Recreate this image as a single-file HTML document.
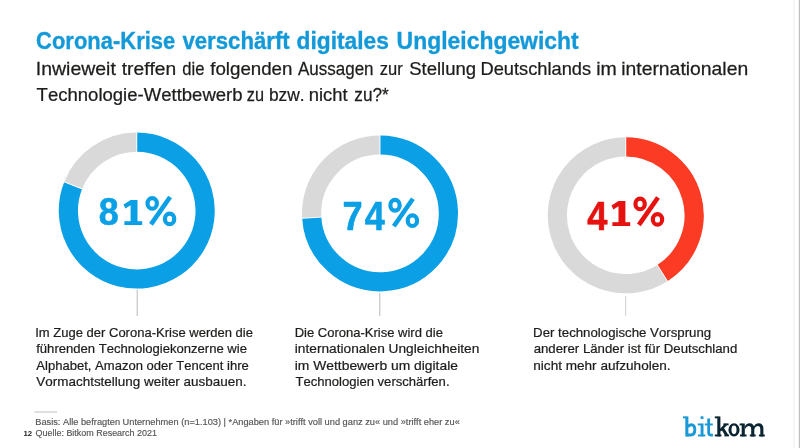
<!DOCTYPE html>
<html lang="de"><head><meta charset="utf-8"><title>Corona-Krise verschärft digitales Ungleichgewicht</title>
<style>
html,body{margin:0;padding:0;background:#fff;}
body{width:800px;height:448px;overflow:hidden;font-family:"Liberation Sans",sans-serif;}
svg{display:block;will-change:transform;}
text{white-space:pre;font-kerning:none;}
</style></head><body>
<svg width="800" height="448" viewBox="0 0 800 448">
<rect width="800" height="448" fill="#ffffff"/>
<rect x="792.6" y="0" width="3.2" height="448" fill="#fafafa"/>
<rect x="793.4" y="0" width="1.6" height="448" fill="#f6f6f6"/>
<rect x="798.8" y="0" width="1.2" height="448" fill="#bfbfbf"/>
<text stroke="#1499d8" stroke-width="0.35" transform="translate(36.10 48.70) scale(0.8876 1.0000)" font-size="24.75" fill="#1499d8" font-weight="bold" font-family="'Liberation Sans', sans-serif">Corona-Krise</text>
<text stroke="#1499d8" stroke-width="0.35" transform="translate(182.41 48.70) scale(0.8970 1.0000)" font-size="24.75" fill="#1499d8" font-weight="bold" font-family="'Liberation Sans', sans-serif">verschärft</text>
<text stroke="#1499d8" stroke-width="0.35" transform="translate(296.57 48.70) scale(0.9200 1.0000)" font-size="24.75" fill="#1499d8" font-weight="bold" font-family="'Liberation Sans', sans-serif">digitales</text>
<text stroke="#1499d8" stroke-width="0.35" transform="translate(396.62 48.70) scale(0.9263 1.0000)" font-size="24.75" fill="#1499d8" font-weight="bold" font-family="'Liberation Sans', sans-serif">Ungleichgewicht</text>
<text stroke="#1d1d1b" stroke-width="0.25" transform="translate(35.80 75.00) scale(1.0641 1.0000)" font-size="18.3" fill="#1d1d1b" font-weight="normal" font-family="'Liberation Sans', sans-serif">Inwieweit</text>
<text stroke="#1d1d1b" stroke-width="0.25" transform="translate(121.71 75.00) scale(1.0513 1.0000)" font-size="18.3" fill="#1d1d1b" font-weight="normal" font-family="'Liberation Sans', sans-serif">treffen</text>
<text stroke="#1d1d1b" stroke-width="0.25" transform="translate(182.30 75.00) scale(0.9085 1.0000)" font-size="18.3" fill="#1d1d1b" font-weight="normal" font-family="'Liberation Sans', sans-serif">die</text>
<text stroke="#1d1d1b" stroke-width="0.25" transform="translate(210.23 75.00) scale(1.0229 1.0000)" font-size="18.3" fill="#1d1d1b" font-weight="normal" font-family="'Liberation Sans', sans-serif">folgenden</text>
<text stroke="#1d1d1b" stroke-width="0.25" transform="translate(297.97 75.00) scale(0.9293 1.0000)" font-size="18.3" fill="#1d1d1b" font-weight="normal" font-family="'Liberation Sans', sans-serif">Aussagen</text>
<text stroke="#1d1d1b" stroke-width="0.25" transform="translate(379.83 75.00) scale(0.9025 1.0000)" font-size="18.3" fill="#1d1d1b" font-weight="normal" font-family="'Liberation Sans', sans-serif">zur</text>
<text stroke="#1d1d1b" stroke-width="0.25" transform="translate(409.16 75.00) scale(1.0137 1.0000)" font-size="18.3" fill="#1d1d1b" font-weight="normal" font-family="'Liberation Sans', sans-serif">Stellung</text>
<text stroke="#1d1d1b" stroke-width="0.25" transform="translate(480.50 75.00) scale(0.9980 1.0000)" font-size="18.3" fill="#1d1d1b" font-weight="normal" font-family="'Liberation Sans', sans-serif">Deutschlands</text>
<text stroke="#1d1d1b" stroke-width="0.25" transform="translate(596.19 75.00) scale(1.0664 1.0000)" font-size="18.3" fill="#1d1d1b" font-weight="normal" font-family="'Liberation Sans', sans-serif">im</text>
<text stroke="#1d1d1b" stroke-width="0.25" transform="translate(621.20 75.00) scale(1.0583 1.0000)" font-size="18.3" fill="#1d1d1b" font-weight="normal" font-family="'Liberation Sans', sans-serif">internationalen</text>
<text stroke="#1d1d1b" stroke-width="0.25" transform="translate(36.58 100.70) scale(1.0136 1.0000)" font-size="18.3" fill="#1d1d1b" font-weight="normal" font-family="'Liberation Sans', sans-serif">Technologie-Wettbewerb</text>
<text stroke="#1d1d1b" stroke-width="0.25" transform="translate(246.84 100.70) scale(0.8923 1.0000)" font-size="18.3" fill="#1d1d1b" font-weight="normal" font-family="'Liberation Sans', sans-serif">zu</text>
<text stroke="#1d1d1b" stroke-width="0.25" transform="translate(268.88 100.70) scale(0.9489 1.0000)" font-size="18.3" fill="#1d1d1b" font-weight="normal" font-family="'Liberation Sans', sans-serif">bzw.</text>
<text stroke="#1d1d1b" stroke-width="0.25" transform="translate(308.78 100.70) scale(1.0052 1.0000)" font-size="18.3" fill="#1d1d1b" font-weight="normal" font-family="'Liberation Sans', sans-serif">nicht</text>
<text stroke="#1d1d1b" stroke-width="0.25" transform="translate(354.30 100.70) scale(0.9410 1.0000)" font-size="18.3" fill="#1d1d1b" font-weight="normal" font-family="'Liberation Sans', sans-serif">zu?*</text>
<path d="M136.75 142.20A68.4 68.4 0 1 1 73.15 185.42" fill="none" stroke="#0b9fe5" stroke-width="19.2"/>
<path d="M73.15 185.42A68.4 68.4 0 0 1 136.75 142.20" fill="none" stroke="#d9d9d9" stroke-width="19.2"/>
<line x1="136.75" y1="152.80" x2="136.75" y2="131.60" stroke="#fff" stroke-width="0.9"/>
<line x1="83.01" y1="189.32" x2="63.30" y2="181.52" stroke="#fff" stroke-width="0.9"/>
<path d="M380.00 145.00A68.4 68.4 0 1 1 311.73 217.69" fill="none" stroke="#0b9fe5" stroke-width="19.2"/>
<path d="M311.73 217.69A68.4 68.4 0 0 1 380.00 145.00" fill="none" stroke="#d9d9d9" stroke-width="19.2"/>
<line x1="380.00" y1="155.60" x2="380.00" y2="134.40" stroke="#fff" stroke-width="0.9"/>
<line x1="322.31" y1="217.03" x2="301.16" y2="218.36" stroke="#fff" stroke-width="0.9"/>
<path d="M625.75 146.90A68.4 68.4 0 0 1 662.40 273.05" fill="none" stroke="#fb3b24" stroke-width="19.2"/>
<path d="M662.40 273.05A68.4 68.4 0 1 1 625.75 146.90" fill="none" stroke="#d9d9d9" stroke-width="19.2"/>
<line x1="625.75" y1="157.50" x2="625.75" y2="136.30" stroke="#fff" stroke-width="0.9"/>
<line x1="656.72" y1="264.10" x2="668.08" y2="282.00" stroke="#fff" stroke-width="0.9"/>
<rect x="136.7" y="289.6" width="1" height="26.4" fill="#b9b9b9"/>
<rect x="379.3" y="293" width="1" height="23" fill="#b9b9b9"/>
<rect x="625.2" y="295.9" width="1" height="20.1" fill="#cfcfcf"/>
<text stroke="#0b9fe5" stroke-width="0.6" stroke-linejoin="round" transform="translate(98.86 224.60) scale(0.9436 1.0251)" font-size="38" fill="#0b9fe5" font-weight="bold" font-family="'Liberation Sans', sans-serif">8</text>
<path fill="#0b9fe5" d="M130.6 200L137.5 200L137.5 225L130.6 225L130.6 205.2L125.4 208.6L123.5 204.4Z"/><rect x="124.4" y="221.2" width="17.8" height="3.8" fill="#0b9fe5"/>
<g transform="translate(0 0)" fill="none" stroke="#0b9fe5"><ellipse cx="152.2" cy="203.45" rx="4.65" ry="5.3" stroke-width="4.2"/><ellipse cx="169.6" cy="218.9" rx="4.65" ry="5.3" stroke-width="4.2"/><path d="M170.1 197 L151 224.4" stroke-width="4.6"/></g>
<text stroke="#0b9fe5" stroke-width="0.6" stroke-linejoin="round" transform="translate(342.54 230.20) scale(0.9534 1.0748)" font-size="38" fill="#0b9fe5" font-weight="bold" font-family="'Liberation Sans', sans-serif">7</text>
<text stroke="#0b9fe5" stroke-width="0.6" stroke-linejoin="round" transform="translate(364.85 230.20) scale(0.9482 1.0748)" font-size="38" fill="#0b9fe5" font-weight="bold" font-family="'Liberation Sans', sans-serif">4</text>
<g transform="translate(242.8 1.8)" fill="none" stroke="#0b9fe5"><ellipse cx="152.2" cy="203.45" rx="4.65" ry="5.3" stroke-width="4.2"/><ellipse cx="169.6" cy="218.9" rx="4.65" ry="5.3" stroke-width="4.2"/><path d="M170.1 197 L151 224.4" stroke-width="4.6"/></g>
<text stroke="#e6120f" stroke-width="0.6" stroke-linejoin="round" transform="translate(587.35 229.50) scale(0.9531 1.0901)" font-size="38" fill="#e6120f" font-weight="bold" font-family="'Liberation Sans', sans-serif">4</text>
<path fill="#e6120f" d="M618.5 201L625.4 201L625.4 226L618.5 226L618.5 206.2L613.4 209.6L611.5 205.4Z"/><rect x="612.4" y="222.2" width="17.8" height="3.8" fill="#e6120f"/>
<g transform="translate(487.9 0.5)" fill="none" stroke="#e6120f"><ellipse cx="152.2" cy="203.45" rx="4.65" ry="5.3" stroke-width="4.2"/><ellipse cx="169.6" cy="218.9" rx="4.65" ry="5.3" stroke-width="4.2"/><path d="M170.1 197 L151 224.4" stroke-width="4.6"/></g>
<text stroke="#1d1d1b" stroke-width="0.22" transform="translate(35.20 337.30) scale(1.0023 1.0000)" font-size="13" fill="#1d1d1b" font-weight="normal" font-family="'Liberation Sans', sans-serif">Im Zuge der Corona-Krise werden die</text>
<text stroke="#1d1d1b" stroke-width="0.22" transform="translate(36.21 353.30) scale(1.0066 1.0000)" font-size="13" fill="#1d1d1b" font-weight="normal" font-family="'Liberation Sans', sans-serif">führenden Technologiekonzerne wie</text>
<text stroke="#1d1d1b" stroke-width="0.22" transform="translate(36.37 369.50) scale(1.0041 1.0000)" font-size="13" fill="#1d1d1b" font-weight="normal" font-family="'Liberation Sans', sans-serif">Alphabet, Amazon oder Tencent ihre</text>
<text stroke="#1d1d1b" stroke-width="0.22" transform="translate(36.34 385.80) scale(1.0356 1.0000)" font-size="13" fill="#1d1d1b" font-weight="normal" font-family="'Liberation Sans', sans-serif">Vormachtstellung weiter ausbauen.</text>
<text stroke="#1d1d1b" stroke-width="0.22" transform="translate(294.63 337.30) scale(1.0023 1.0000)" font-size="13" fill="#1d1d1b" font-weight="normal" font-family="'Liberation Sans', sans-serif">Die Corona-Krise wird die</text>
<text stroke="#1d1d1b" stroke-width="0.22" transform="translate(294.78 353.30) scale(1.0555 1.0000)" font-size="13" fill="#1d1d1b" font-weight="normal" font-family="'Liberation Sans', sans-serif">internationalen Ungleichheiten</text>
<text stroke="#1d1d1b" stroke-width="0.22" transform="translate(294.77 369.50) scale(1.0664 1.0000)" font-size="13" fill="#1d1d1b" font-weight="normal" font-family="'Liberation Sans', sans-serif">im Wettbewerb um digitale</text>
<text stroke="#1d1d1b" stroke-width="0.22" transform="translate(295.41 385.80) scale(1.0071 1.0000)" font-size="13" fill="#1d1d1b" font-weight="normal" font-family="'Liberation Sans', sans-serif">Technologien verschärfen.</text>
<text stroke="#1d1d1b" stroke-width="0.22" transform="translate(533.11 337.30) scale(1.0192 1.0000)" font-size="13" fill="#1d1d1b" font-weight="normal" font-family="'Liberation Sans', sans-serif">Der technologische Vorsprung</text>
<text stroke="#1d1d1b" stroke-width="0.22" transform="translate(533.64 353.30) scale(1.0182 1.0000)" font-size="13" fill="#1d1d1b" font-weight="normal" font-family="'Liberation Sans', sans-serif">anderer Länder ist für Deutschland</text>
<text stroke="#1d1d1b" stroke-width="0.22" transform="translate(533.30 369.50) scale(1.0442 1.0000)" font-size="13" fill="#1d1d1b" font-weight="normal" font-family="'Liberation Sans', sans-serif">nicht mehr aufzuholen.</text>
<rect x="34.6" y="411.5" width="22.4" height="1" fill="#bdbdbd"/>
<text stroke="#555555" stroke-width="0.15" transform="translate(35.24 425.00) scale(1.1015 1.0000)" font-size="8.4" fill="#555555" font-weight="normal" font-family="'Liberation Sans', sans-serif">Basis: Alle befragten Unternehmen (n=1.103) | *Angaben für »trifft voll und ganz zu« und »trifft eher zu«</text>
<text stroke="#555555" stroke-width="0.15" transform="translate(35.58 436.00) scale(1.0662 1.0000)" font-size="8.4" fill="#555555" font-weight="normal" font-family="'Liberation Sans', sans-serif">Quelle: Bitkom Research 2021</text>
<text transform="translate(23.41 435.50) scale(1.0871 1.0000)" font-size="7.2" fill="#222" font-weight="bold" font-family="'Liberation Sans', sans-serif">12</text>
<g id="logo">
<g fill="#1b99d6" stroke="none">
<rect x="685.3" y="416.4" width="3.1" height="20"/>
<rect x="683" y="416.4" width="3" height="1.9"/>
<rect x="700.6" y="416.3" width="2.9" height="2.7" rx="0.6"/>
<rect x="700.6" y="423.5" width="2.9" height="12.9"/>
<rect x="697.8" y="423.5" width="3.5" height="1.9"/>
<rect x="698" y="434.5" width="7.3" height="1.9"/>
<rect x="704.8" y="423.5" width="8" height="1.9"/>
</g>
<g fill="none" stroke="#1b99d6" stroke-width="2.9">
<path d="M688 426.6 C689.4 425.2 690.4 424.7 691.4 424.7 C694 424.7 694.8 427.3 694.8 429.8 C694.8 432.6 693.6 435 690.6 435 L686 435"/>
<path d="M708.65 418.6 L708.65 432.4 Q708.65 435.1 711.2 435.1 L712.9 435.1" stroke-width="2.8"/>
</g>
<g fill="#0a2432" stroke="none">
<rect x="717.3" y="416.4" width="3.1" height="20"/>
<rect x="714.8" y="416.4" width="3" height="1.9"/>
<rect x="714.8" y="434.5" width="6.6" height="1.9"/>
<rect x="723.4" y="423.4" width="5.2" height="1.9"/>
<rect x="724.4" y="434.5" width="4.6" height="1.9"/>
<path fill-rule="evenodd" d="M728.4 429.85 A5.6 6.65 0 1 0 739.6 429.85 A5.6 6.65 0 1 0 728.4 429.85 Z M731.5 429.85 A2.5 4.3 0 1 1 736.5 429.85 A2.5 4.3 0 1 1 731.5 429.85 Z"/>
<rect x="739.6" y="423.5" width="3" height="1.9"/>
<rect x="741.7" y="423.5" width="3.1" height="12.9"/>
<rect x="740" y="434.5" width="6.6" height="1.9"/>
<rect x="749.8" y="434.5" width="5.9" height="1.9"/>
<rect x="758.9" y="434.5" width="5.9" height="1.9"/>
</g>
<g fill="none" stroke="#0a2432">
<path d="M720 430.6 L726 424.4" stroke-width="2.5"/>
<path d="M722.4 428.4 L726.9 435.4" stroke-width="2.9"/>
<path stroke="none" fill="#0a2432" d="M744.8 426.4 C746 424.3 747.6 423.2 749.5 423.2 C752.6 423.2 754.3 425.2 754.3 428.6 L754.3 436.4 L751.2 436.4 L751.2 429.2 C751.2 427.1 750.3 426 748.7 426 C747.2 426 745.8 427.3 744.8 429.4 Z"/>
<path stroke="none" fill="#0a2432" transform="translate(9.1 0)" d="M744.8 426.4 C746 424.3 747.6 423.2 749.5 423.2 C752.6 423.2 754.3 425.2 754.3 428.6 L754.3 436.4 L751.2 436.4 L751.2 429.2 C751.2 427.1 750.3 426 748.7 426 C747.2 426 745.8 427.3 744.8 429.4 Z"/>
</g>
</g>
</svg>
</body></html>
